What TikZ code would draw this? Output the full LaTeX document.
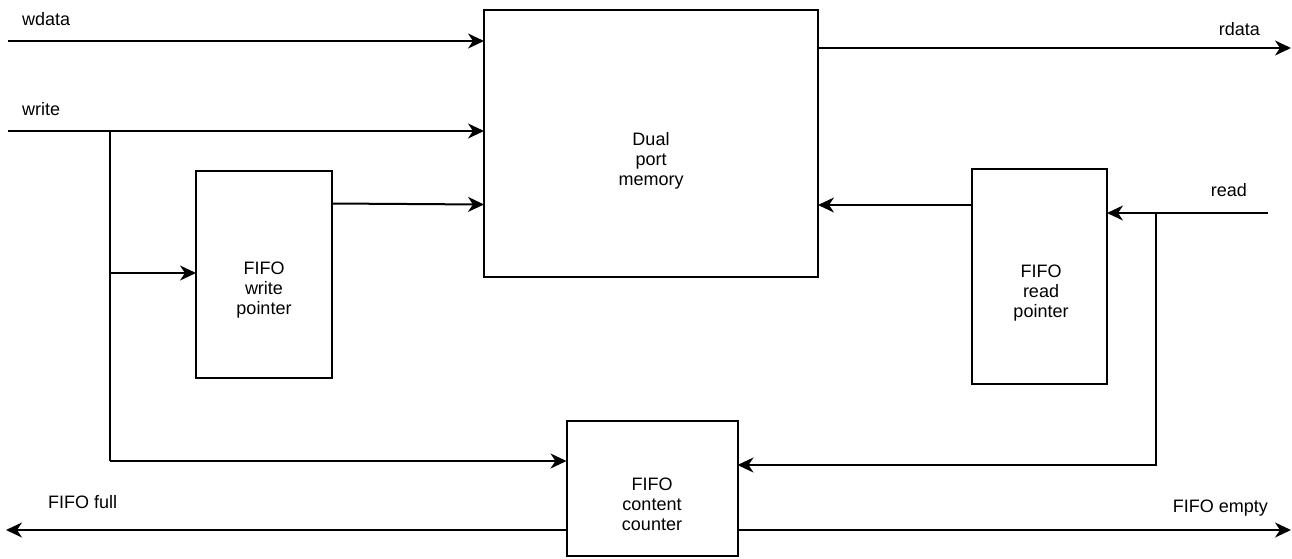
\documentclass[tikz,border=0pt]{standalone}
\usepackage{fontspec}
\setmainfont{Liberation Sans}
\usetikzlibrary{arrows.meta}
\begin{document}
\begin{tikzpicture}[x=1pt,y=-1pt,
  box/.style={draw,line width=2pt,minimum width=#1,inner sep=0pt,outer sep=0pt},
  wire/.style={line width=2pt},
  arr/.style={wire,-{Stealth[length=16pt,width=15pt,inset=5pt]}},
  txt/.style={align=center,inner sep=0pt,font=\fontsize{18}{20}\selectfont},
  lbl/.style={inner sep=0pt,font=\fontsize{18}{20}\selectfont}]
\useasboundingbox (0,0) rectangle (1292,558);
% boxes
\node[box=334pt,minimum height=267pt] (mem) at (651,143.5) {};
\node[box=136pt,minimum height=207pt] (wp) at (264,274.5) {};
\node[box=135pt,minimum height=215pt] (rp) at (1039.5,276.5) {};
\node[box=171pt,minimum height=135pt] (cnt) at (652,488.5) {};
% box texts
\node[txt] (memt) at (651,161) {Dual\\port\\memory};
\node[txt] (wpt) at (264,290) {FIFO\\write\\pointer};
\node[txt] (rpt) at (1041,293) {FIFO\\read\\pointer};
\node[txt] (cntt) at (652,504) {FIFO\\content\\counter};
% labels
\node[lbl,anchor=base west] (lwdata) at (22,25) {wdata};
\node[lbl,anchor=base west] (lwrite) at (22,115) {write};
\node[lbl,anchor=base east] (lrdata) at (1260,35) {rdata};
\node[lbl,anchor=base east] (lread) at (1247,196) {read};
\node[lbl,anchor=base west] (lfull) at (48,508) {FIFO full};
\node[lbl,anchor=base east] (lempty) at (1268,512) {FIFO empty};
% coordinates
\coordinate (wdin) at (8,41);
\coordinate (wrin) at (8,131);
\coordinate (wb) at (110,131);
\coordinate (rdout) at (1291,48);
\coordinate (rdin) at (1268,213);
\coordinate (rb) at (1156,213);
\coordinate (fullout) at (6,530);
\coordinate (emptyout) at (1291,530);
% connectors
\draw[arr] (wdin) -- (wdin -| mem.west);
\draw[arr] (wrin) -- (wrin -| mem.west);
\draw[wire] (wb) -- (110,461);
\draw[arr] (110,273) -- (wp.west |- 0,273);
\draw[arr] (110,461) -- (cnt.west |- 0,461);
\draw[arr] (wp.east |- 0,203.5) -- (mem.west |- 0,204.5);
\draw[arr] (mem.east |- rdout) -- (rdout);
\draw[arr] (rp.west |- 0,205) -- (mem.east |- 0,205);
\draw[arr] (rdin) -- (rdin -| rp.east);
\draw[wire] (rb) -- (1156,465);
\draw[arr] (1157,465) -- (cnt.east |- 0,465);
\draw[arr] (cnt.west |- fullout) -- (fullout);
\draw[arr] (cnt.east |- emptyout) -- (emptyout);
\end{tikzpicture}
\end{document}
